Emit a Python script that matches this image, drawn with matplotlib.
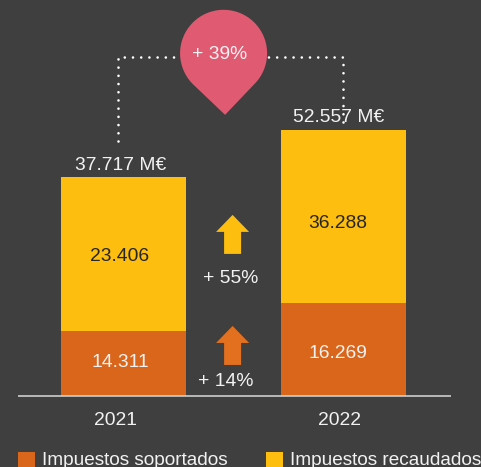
import numpy as np
import matplotlib
matplotlib.use("Agg")
import matplotlib.pyplot as plt
from matplotlib.patches import Polygon

# Values
years = ["2021", "2022"]
soportados_labels = ["14.311", "16.269"]
recaudados_labels = ["23.406", "36.288"]
total_labels = ["37.717 M€", "52.557 M€"]
# Segment heights as drawn in the reference (it is not to a common scale)
soportados_heights = [65, 93]
recaudados_heights = [154, 173]
bar_centres = [123.5, 343.5]
legend_labels = ["Impuestos soportados", "Impuestos recaudados"]
change_labels = ["+ 39%", "+ 55%", "+ 14%"]

BG = "#3f3f3f"
ORANGE = "#d9661b"
ORANGE_ARROW = "#e2701f"
YELLOW = "#fdbe10"
PINK = "#e05a72"
WHITE = "#f2f2f2"
DARK = "#262626"

plt.rcParams["font.family"] = ["Liberation Sans", "DejaVu Sans"]
fig = plt.figure(figsize=(4.812, 4.672), dpi=100, facecolor=BG)
ax = fig.add_axes([0, 0, 1, 1], facecolor=BG)
BASE = 396
ax.set_xlim(0, 481)
ax.set_ylim(BASE - 467, BASE)
ax.axis("off")

def Y(py):
    return BASE - py

FS = 13.9

ax.bar(bar_centres, soportados_heights, width=125, color=ORANGE, zorder=2)
ax.bar(bar_centres, recaudados_heights, width=125, bottom=soportados_heights,
       color=YELLOW, zorder=2)
ax.plot([18, 451], [0, 0], color="#d9d9d9", lw=1.1, zorder=3, solid_capstyle="butt")

def label(x, py, s, color=WHITE, ha="center", size=FS, z=6):
    ax.text(x, Y(py - 1), s, color=color, ha=ha, va="center_baseline", fontsize=size, zorder=z)

label(120, 255, recaudados_labels[0], DARK)
label(120, 361, soportados_labels[0], WHITE)
label(338, 222, recaudados_labels[1], DARK)
label(338, 352, soportados_labels[1], WHITE)
label(121, 164, total_labels[0])
label(338, 116, total_labels[1])
label(115, 419, years[0])
label(339, 419, years[1])
label(231, 277, change_labels[1])
label(226, 380, change_labels[2])

# Dotted bracket
dots = dict(color="#ffffff", lw=1.9, ls=(0, (0.01, 3.1)), dash_capstyle="round", zorder=1)
ax.plot([118, 118, 185], [Y(141), Y(57), Y(57)], **dots)
ax.plot([343, 343, 262], [Y(122), Y(57), Y(57)], **dots)

# Pin
cx, cy, r = 223.5, 53.5, 43.5
tip = (225, 115)
t = np.radians(np.linspace(-45, 225, 120))
px = cx + r * np.cos(t)
py = cy - r * np.sin(t)
pts = np.column_stack([px, Y(py)])
ax.add_patch(Polygon(np.vstack([pts, [tip[0], Y(tip[1])]]), closed=True,
                     facecolor=PINK, edgecolor="none", zorder=4))
label(220, 53, change_labels[0])

# Up arrows
def arrow(xc, top, neck, bottom, color):
    verts = [(xc, top), (xc + 16.5, neck), (xc + 8.5, neck), (xc + 8.5, bottom),
             (xc - 8.5, bottom), (xc - 8.5, neck), (xc - 16.5, neck)]
    ax.add_patch(Polygon([(x, Y(y)) for x, y in verts], closed=True,
                         facecolor=color, edgecolor="none", zorder=4))

arrow(232.5, 215, 232, 254, YELLOW)
arrow(232.5, 326, 343, 365, ORANGE_ARROW)

# Legend
ax.bar([26.5], [17], width=17, bottom=[Y(469)], color=ORANGE, zorder=3)
ax.bar([274.5], [17], width=17, bottom=[Y(469)], color=YELLOW, zorder=3)
label(42, 459, legend_labels[0], ha="left", size=13.7)
label(290, 459, legend_labels[1], ha="left", size=13.7)

fig.savefig("out.png", dpi=100, facecolor=BG)
